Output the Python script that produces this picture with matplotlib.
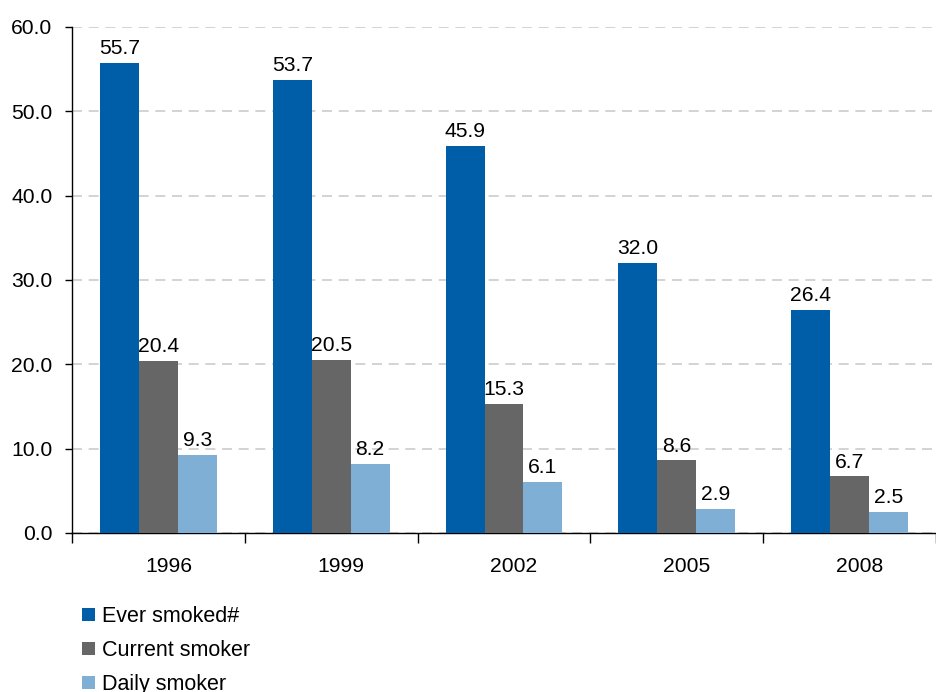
import matplotlib
matplotlib.use("Agg")
import matplotlib.pyplot as plt
import matplotlib.transforms as mtransforms
import numpy as np
from matplotlib.patches import Patch

years = ["1996", "1999", "2002", "2005", "2008"]
ever_smoked = [55.7, 53.7, 45.9, 32.0, 26.4]
current_smoker = [20.4, 20.5, 15.3, 8.6, 6.7]
daily_smoker = [9.3, 8.2, 6.1, 2.9, 2.5]
series_names = ["Ever smoked#", "Current smoker", "Daily smoker"]
colors = ["#005DA8", "#666666", "#80AFD5"]

plt.rcParams["font.family"] = ["Liberation Sans", "DejaVu Sans"]
FS = 15.2

fig = plt.figure(figsize=(9.36, 6.92), dpi=100)
ax = fig.add_axes([0.0769, 0.2298, 0.9231, 0.7312])

x = np.arange(len(years))
width = 0.225
series = [ever_smoked, current_smoker, daily_smoker]
for i, (vals, col) in enumerate(zip(series, colors)):
    pos = x + (i - 1) * width
    ax.bar(pos, vals, width=width, color=col, zorder=3)
    for p, v in zip(pos, vals):
        ax.annotate(f"{v:.1f}", (p, v), xytext=(0, 3.5), textcoords="offset points",
                    ha="center", va="bottom", fontsize=FS, zorder=4)

ax.set_xlim(-0.5, len(years) - 0.5)
ax.set_ylim(0, 60)
ax.set_yticks(np.arange(0, 61, 10))
ax.set_yticklabels([f"{t:.1f}" for t in np.arange(0, 61, 10)], fontsize=FS)
ax.yaxis.grid(True, linestyle=(0, (6, 4)), color="#CCCCCC", linewidth=1.2, zorder=0)

# year labels near the group centres, ticks at group boundaries
ax.set_xticks(np.arange(len(years) + 1) - 0.5)
ax.set_xticklabels([])
ax.set_xticks(x, minor=True)
ax.set_xticklabels(years, minor=True, fontsize=FS)
ax.tick_params(axis="x", which="minor", length=0, pad=17)
ax.tick_params(axis="x", which="major", length=7, direction="out", width=1)
ax.tick_params(axis="y", length=5, direction="out", width=1, pad=9)
shift = mtransforms.ScaledTranslation(10 / 100, 0, fig.dpi_scale_trans)
for lbl in ax.get_xticklabels(minor=True):
    lbl.set_transform(lbl.get_transform() + shift)

for s in ["top", "right"]:
    ax.spines[s].set_visible(False)
ax.spines["left"].set_linewidth(1)
ax.spines["bottom"].set_linewidth(1)

handles = [Patch(facecolor=c, label=n) for c, n in zip(colors, series_names)]
fig.legend(handles=handles, loc="upper left", bbox_to_anchor=(0.0876, 0.124),
           frameon=False, fontsize=15.5, handlelength=0.6, handleheight=0.6,
           handletextpad=0.35, labelspacing=0.6, borderpad=0, borderaxespad=0)

fig.savefig("out.png", dpi=100)
